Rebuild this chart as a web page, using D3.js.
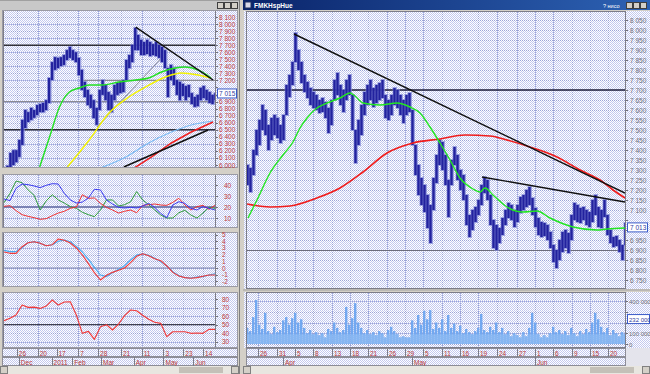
<!DOCTYPE html>
<html><head><meta charset="utf-8">
<script src="https://d3js.org/d3.v7.min.js"></script>
<style>
html,body{margin:0;padding:0;background:#d4d0c8;overflow:hidden}
svg{display:block}
text{font-family:"Liberation Sans",Arial,sans-serif}
</style></head><body>
<svg id="chart" width="650" height="374"></svg>
<script>
// ================= DATA =================
// Left window: daily bars (high / low), one sample per bar slot
const leftHigh = [5960,5990,6170,6210,6210,6355,6640,6780,6750,6810,6780,6850,6865,6880,6920,7235,7460,7530,7520,7530,7560,7630,7675,7630,7600,7520,7350,7180,7065,6995,6920,6810,7065,7205,7135,7035,6995,7135,7165,7180,7205,7490,7560,7705,7945,7845,7775,7745,7775,7745,7715,7745,7705,7675,7630,7375,7420,7375,7205,7180,7150,7120,7135,7020,6965,6995,7095,7120,7065,7035,6995,7020];
const leftLow = [5880,5900,5970,6000,6040,6115,6285,6525,6610,6640,6670,6710,6750,6750,6780,6880,7205,7350,7375,7405,7420,7490,7520,7490,7460,7275,7065,6965,6850,6810,6665,6570,6780,6995,6920,6780,6750,6920,6995,7020,7035,7205,7375,7460,7630,7630,7560,7560,7575,7545,7560,7545,7520,7460,7375,6965,7205,7135,6995,6920,6980,6920,6965,6865,6825,6835,6920,6950,6920,6880,6865,6920];
// moving averages: [bar index, price]
const leftGreenMA = [[12,5972],[15.33,6397],[18.67,6823],[22,7036],[25.33,7093],[28.67,7135],[33,7135],[38.67,7178],[44.33,7206],[48.67,7235],[53,7320],[57.67,7376],[61,7390],[65.33,7348],[69.67,7235]];
const leftYellowMA = [[21.33,5972],[28.67,6355],[35.33,6738],[42,6965],[47.67,7107],[54.33,7249],[59.67,7306],[65.33,7277],[69.67,7235]];
const leftBlueMA = [[32,5950],[41,6114],[48.67,6312],[56.33,6468],[63,6568],[70.33,6624]];
const leftRedMA = [[43.5,5950],[49.67,6114],[56.33,6312],[63,6468],[70.33,6610]];
const leftChannel = [[40.33,5972],[68.67,6497]];
const leftTrend = [[44.33,7958],[70.33,7206]];
const leftThin = [[31.33,6539],[53,7518]];
const leftLevelsDark = [7700,6500];
const leftLevelsGray = [[26,7200],[0,6900]];
const leftPriceTicks = [8100,8000,7900,7800,7700,7600,7500,7400,7300,7200,7100,7000,6900,6800,6700,6600,6500,6400,6300,6200,6100,6000];
const leftLast = 7015;
// Left indicators (one value every 2 bar slots)
const dmiBlue = [27.3,25.8,37,40.9,40.3,39.1,37.6,39.7,41.2,40.9,32.4,26.4,23.6,24.5,28.2,36.1,35.5,26.4,22.7,19.7,19.1,19.7,19.1,20.9,23.3,19.7,14.2,10.3,21.8,24.8,23.3,18.8,17.3,20.3,18.8,17.3];
const dmiGreen = [23.9,32.4,43.6,42.1,35.5,30.6,17.3,25.5,31.2,26.4,23.6,20.3,18.8,15.2,13,11.2,17.3,26.4,26.4,20.9,22.1,24.8,34,26.4,22.1,17.3,12.7,10,10,14.8,17,12.7,10,14.5,19.7,18.8];
const dmiRed = [20.6,21.2,16.7,13,11.5,10.3,8.8,9.4,12.1,14.5,16.1,18.8,20,31.2,27.9,28.2,23.3,19.7,17.3,14.5,16.1,17.3,14.8,21.5,22.1,22.7,21.8,21.5,24.2,27.9,21.8,17.3,20.3,21.5,17.9,21.5];
const dmiTicks = [40,30,20,10];
const macdRed = [2.39,2.19,2.19,3.18,3.78,3.93,3.68,3.33,3.48,4.33,4.13,3.73,2.99,1.94,0.65,-0.7,-1.79,-1.09,-0.65,-0.35,0,0.8,1.74,2.14,1.84,1.39,1.09,0.3,-0.65,-1.19,-1.44,-1.54,-1.44,-1.24,-1.04,-1.04];
const macdBlue = [2.64,2.44,2.44,3.03,3.78,3.93,3.68,3.33,3.48,3.98,4.18,3.93,3.23,2.39,1.29,0.1,-1.04,-1.29,-0.7,-0.2,0.35,1.19,1.94,2.14,1.89,1.44,0.95,0.3,-0.55,-1.14,-1.44,-1.49,-1.34,-1.29,-1.04,-0.85];
const macdTicks = [5,4,3,2,1,0,-1,-2];
const rsi = [54.6,57.4,61.3,72.9,70.2,70.5,69,71.7,78.8,72.9,76.4,76.8,61.3,39.8,42.1,32.8,47.6,49.9,43.7,50.7,60.5,67.1,66.3,60.9,56.2,52.7,51.5,35.9,41.7,41.7,41.7,39.8,40.2,39.8,44.4,44.4];
const rsiTicks = [80,70,60,50,40,30];
const leftDateLabels = ["26","20","17","7","28","21","11","3","23","14"];
const leftDateIdx = [4.33,11.33,17.67,25,31.67,39.33,46.33,53.67,60.33,67];
const leftMonths = ["Dec","2011","Feb","Mar","Apr","May","Jun"];
const leftMonthIdx = [5,16,23,32.67,43.67,53.67,63.67];

// Main window: intraday bars (high / low)
const mainHigh = [7325,7310,7400,7500,7550,7625,7600,7525,7560,7575,7560,7525,7575,7725,7775,7840,7985,7900,7840,7775,7740,7710,7690,7675,7650,7660,7640,7610,7650,7750,7785,7725,7700,7750,7775,7675,7500,7550,7625,7690,7725,7750,7710,7725,7735,7750,7675,7650,7675,7710,7700,7675,7650,7675,7685,7600,7425,7325,7260,7225,7175,7125,7260,7375,7450,7440,7375,7250,7350,7415,7375,7300,7275,7175,7075,7100,7115,7150,7225,7265,7250,7175,7050,7025,7010,7060,7100,7135,7125,7100,7125,7165,7175,7200,7215,7160,7110,7060,7040,7035,7025,6990,6925,6900,6950,6990,7000,6985,7075,7135,7125,7110,7115,7100,7090,7150,7175,7115,7100,7150,7075,7000,6965,6970,6950,6925,7035];
const mainLow = [7225,7190,7275,7375,7425,7500,7475,7400,7450,7475,7460,7435,7450,7575,7665,7725,7840,7800,7735,7690,7660,7625,7610,7600,7585,7590,7560,7485,7525,7650,7675,7625,7590,7650,7675,7500,7335,7425,7475,7575,7625,7650,7615,7635,7650,7660,7560,7550,7575,7625,7610,7575,7535,7575,7590,7425,7275,7175,7125,7090,7010,6935,7100,7235,7325,7300,7225,7065,7225,7325,7250,7200,7150,7025,6965,7000,7040,7075,7125,7185,7150,7025,6910,6900,6935,6975,7025,7060,7050,7015,7040,7085,7100,7115,7125,7075,7015,6975,6965,6970,6950,6910,6840,6810,6850,6890,6910,6885,6950,7050,7040,7035,7050,7025,7015,7040,7075,7015,7010,7065,6975,6935,6915,6920,6890,6850,6925];
const mainVolume = [150,120,250,410,180,140,290,120,90,160,110,130,220,250,180,240,290,200,230,150,100,130,90,110,80,100,60,140,120,200,150,110,130,345,180,240,380,200,150,100,130,90,110,80,120,100,60,130,160,120,90,60,70,60,60,220,150,270,180,310,230,315,140,200,150,230,120,270,150,190,120,170,100,140,110,90,120,150,280,130,110,160,130,200,110,150,90,120,70,100,80,60,110,70,150,290,200,90,60,80,60,100,160,110,130,90,120,80,150,100,70,120,90,140,110,200,290,230,160,110,150,80,130,100,70,110,90];
const mainGreenMA = [[0.33,7060],[3.33,7150],[7.67,7285],[12,7375],[15.33,7440],[17.67,7510],[20,7560],[23.33,7610],[26.67,7635],[31,7660],[34.33,7685],[36,7670],[38.67,7635],[44.33,7625],[50,7635],[54.33,7615],[57.67,7585],[61,7515],[64.33,7435],[67.67,7350],[71,7260],[75.33,7205],[77.67,7190],[79.33,7210],[82,7175],[86.67,7115],[92,7090],[96.67,7095],[101,7060],[108.67,7015],[116.67,7000],[120,7005],[126,7010]];
const mainRedMA = [[0,7130],[7.67,7115],[14.33,7120],[23.33,7160],[31,7210],[38.67,7290],[46.67,7385],[55.33,7435],[64.33,7455],[72.67,7475],[81,7470],[86.67,7450],[95.33,7410],[103.33,7365],[111,7300],[117.67,7250],[122,7200],[126,7160]];
const mainTrend1 = [[15.67,7980],[126,7185]];
const mainTrend2 = [[78.33,7265],[126,7140]];
const mainLevelDark = 7700;
const mainLevelGray = 6900;
const mainPriceTicks = [8050,8000,7950,7900,7850,7800,7750,7700,7650,7600,7550,7500,7450,7400,7350,7300,7250,7200,7150,7100,7050,7000,6950,6900,6850,6800,6750];
const mainLast = 7013;
const volTicks = [400,300,200,100,0];
const volLast = 232;
const mainDateLabels = ["26","31","5","8","13","18","21","26","29","5","11","16","19","24","27","1","6","9","15","20"];
const mainDateIdx = [3.67,10,16,22,28.33,34.33,40.33,46.67,52.67,58.67,65,71,77,83.33,90,96,102,108.33,114.33,120.33];
const mainMonths = ["Apr","May","Jun"];
const mainMonthIdx = [12,55,96];
const mainTitle = "FMKHspHue";

// ================= DRAWING =================
const svg = d3.select("#chart");
const defs = svg.append("defs");
const pat = defs.append("pattern").attr("id","dith").attr("width",2).attr("height",2).attr("patternUnits","userSpaceOnUse");
pat.append("rect").attr("width",2).attr("height",2).attr("fill","#ffffff");
pat.append("rect").attr("width",1).attr("height",1).attr("fill","#c3c9ef");
pat.append("rect").attr("x",1).attr("y",1).attr("width",1).attr("height",1).attr("fill","#c3c9ef");
const tg = defs.append("linearGradient").attr("id","tbar");
tg.append("stop").attr("offset","0").attr("stop-color","#0a246a");
tg.append("stop").attr("offset","1").attr("stop-color","#2d62b4");

const fmt = v => d3.format(",")(v).replace(/,/g," ");
let clipN = 0;
function clipGroup(x0,y0,x1,y1){
  const id = "cp"+(clipN++);
  defs.append("clipPath").attr("id",id).append("rect").attr("x",x0).attr("y",y0).attr("width",x1-x0).attr("height",y1-y0);
  return svg.append("g").attr("clip-path",`url(#${id})`);
}
function rect(x,y,w,h,fill,stroke){
  return svg.append("rect").attr("x",x).attr("y",y).attr("width",w).attr("height",h).attr("fill",fill||"none").attr("stroke",stroke||"none");
}
function hgrid(g,x0,x1,ys){
  g.selectAll(null).data(ys).join("line").attr("x1",x0).attr("x2",x1)
   .attr("y1",d=>Math.round(d)+0.5).attr("y2",d=>Math.round(d)+0.5)
   .attr("stroke","#9aa3d6").attr("stroke-dasharray","1,1");
}
function vgrid(g,y0,y1,xs){
  g.selectAll(null).data(xs).join("line").attr("y1",y0).attr("y2",y1)
   .attr("x1",d=>Math.round(d)+0.5).attr("x2",d=>Math.round(d)+0.5)
   .attr("stroke","#9aa3d6").attr("stroke-dasharray","1,1");
}
// axis labels; labels hidden under the "current value" box are skipped (the box covers them)
function axisLabels(x,ys,labels,color,size,boxY){
  const keep = ys.map((y,i)=>i).filter(i=>boxY===undefined || Math.abs(ys[i]-boxY)>=8);
  svg.append("g").selectAll("text").data(keep).join("text")
    .attr("x",x).attr("y",i=>ys[i]+2.5).attr("font-size",size||7).attr("fill",color).text(i=>labels[i]);
}
function ticksMarks(x,ys){
  svg.append("g").selectAll("line").data(ys).join("line")
    .attr("x1",x).attr("x2",x+2).attr("y1",d=>Math.round(d)+0.5).attr("y2",d=>Math.round(d)+0.5).attr("stroke","#707078");
}
function bars(g,xs,ys,hi,lo){
  g.append("g").selectAll("rect").data(hi).join("rect")
    .attr("x",(d,i)=>xs(i)-1.5).attr("width",4.5)
    .attr("y",(d,i)=>ys(d)-1).attr("height",(d,i)=>ys(lo[i])-ys(d)+2)
    .attr("fill","#8088d8").attr("opacity",0.7);
  g.append("g").selectAll("rect").data(hi).join("rect")
    .attr("x",(d,i)=>xs(i)-0.7).attr("width",2.4)
    .attr("y",(d,i)=>ys(d)).attr("height",(d,i)=>ys(lo[i])-ys(d))
    .attr("fill","#22229e");
}
function pairLine(g,data,xs,ys,color,w,curve){
  g.append("path").datum(data)
   .attr("d",d3.line().x(d=>xs(d[0])).y(d=>ys(d[1])).curve(curve||d3.curveMonotoneX))
   .attr("fill","none").attr("stroke",color).attr("stroke-width",w);
}
function seriesLine(g,data,xs,ys,color,w){
  g.append("path").datum(data)
   .attr("d",d3.line().x((d,i)=>xs(i)).y(d=>ys(d)))
   .attr("fill","none").attr("stroke",color).attr("stroke-width",w).attr("stroke-linejoin","round");
}
function titleButtons(x,y){
  [0,7,14].forEach(o=>{ rect(x+o+0.5,y+0.5,6,6,"#d4d0c8","#404040"); });
}
function scrollbar(x0,x1,y){
  rect(x0,y,x1-x0,8,"#e8e6e0");
  rect(x0+0.5,y+0.5,7,7,"#d4d0c8","#808080");
  rect(x1-7.5,y+0.5,7,7,"#d4d0c8","#808080");
  rect(x1-60,y+1,44,6,"#c4c0b8");
}

// ---------- LEFT WINDOW ----------
rect(0,0,239,10,"#c8c8c8");
rect(0,0,239,1,"#a0a0a0");
titleButtons(217,2);
const LX0 = 3, LX1 = 216, LAX = 238;
const lx = d3.scaleLinear().domain([0,leftHigh.length-1]).range([4,215]);
const ix = d3.scaleLinear().domain([0,dmiBlue.length-1]).range([4,215]);
const leftDateX = leftDateIdx.map(d=>lx(d));

function leftRow(y0,y1){
  rect(2,y0,LAX-2,y1-y0,"url(#dith)");
  rect(LX0+0.5,y0+0.5,LX1-LX0-1,y1-y0-1,null,"#7c7c88");
  rect(2.5,y0+0.5,LAX-3,y1-y0-1,null,"#9a9aa4");
}
// price panel
leftRow(10,168);
const ly = d3.scaleLinear().domain([6000,8100]).range([165,17]);
{
  const g = clipGroup(LX0+1,11,LX1-1,167);
  hgrid(g,LX0,LX1,leftPriceTicks.map(ly));
  vgrid(g,11,167,leftDateX);
  g.selectAll(null).data(leftLevelsDark).join("line").attr("x1",LX0).attr("x2",LX1)
    .attr("y1",d=>ly(d)).attr("y2",d=>ly(d)).attr("stroke","#303038").attr("stroke-width",1.6);
  g.selectAll(null).data(leftLevelsGray).join("line").attr("x1",d=>lx(d[0])).attr("x2",LX1)
    .attr("y1",d=>ly(d[1])).attr("y2",d=>ly(d[1])).attr("stroke","#8a8a94").attr("stroke-width",1.2);
  pairLine(g,leftBlueMA,lx,ly,"#7cbcf4",1.2);
  pairLine(g,leftRedMA,lx,ly,"#f02020",1.5,d3.curveLinear);
  pairLine(g,leftChannel,lx,ly,"#101010",1.6,d3.curveLinear);
  pairLine(g,leftThin,lx,ly,"#8a8a96",1,d3.curveLinear);
  bars(g,lx,ly,leftHigh,leftLow);
  pairLine(g,leftYellowMA,lx,ly,"#f4f400",1.4);
  pairLine(g,leftGreenMA,lx,ly,"#22e022",1.4);
  pairLine(g,leftTrend,lx,ly,"#101010",1.5,d3.curveLinear);
}
ticksMarks(LX1,leftPriceTicks.map(ly));
axisLabels(219,leftPriceTicks.map(ly),leftPriceTicks.map(fmt),"#c03a3a",6.5,ly(leftLast));
rect(217.5,ly(leftLast)-4.5,19,9,"#ffffff","#3a5ac8");
svg.append("text").attr("x",219).attr("y",ly(leftLast)+2.5).attr("font-size",6.5).attr("fill","#3040a0").text(fmt(leftLast));

// DMI panel
rect(0,168,239,6,"#d4d0c8");
leftRow(174,228);
const ay = d3.scaleLinear().domain([10,40]).range([218,185]);
{
  const g = clipGroup(LX0+1,175,LX1-1,227);
  hgrid(g,LX0,LX1,dmiTicks.map(ay));
  vgrid(g,175,227,leftDateX);
  g.append("line").attr("x1",LX0).attr("x2",LX1).attr("y1",ay(20)).attr("y2",ay(20)).attr("stroke","#7a82b4").attr("stroke-width",2);
  seriesLine(g,dmiGreen,ix,ay,"#2e9a3a",1);
  seriesLine(g,dmiRed,ix,ay,"#f03030",1);
  seriesLine(g,dmiBlue,ix,ay,"#3a3af0",1);
}
ticksMarks(LX1,dmiTicks.map(ay));
axisLabels(224,dmiTicks.map(ay),dmiTicks.map(String),"#c03a3a",6.5);

// MACD panel
rect(0,228,239,4,"#d4d0c8");
leftRow(232,287);
const my = d3.scaleLinear().domain([0,4]).range([268,241.2]);
{
  const g = clipGroup(LX0+1,233,LX1-1,286);
  hgrid(g,LX0,LX1,macdTicks.map(my));
  vgrid(g,233,286,leftDateX);
  g.append("line").attr("x1",LX0).attr("x2",LX1).attr("y1",my(0)).attr("y2",my(0)).attr("stroke","#8088b0").attr("stroke-width",1);
  seriesLine(g,macdBlue,ix,my,"#48a8f0",1.1);
  seriesLine(g,macdRed,ix,my,"#f03838",1.1);
}
ticksMarks(LX1,macdTicks.map(my));
axisLabels(222,macdTicks.map(my),macdTicks.map(String),"#c03a3a",6.5);

// RSI panel
rect(0,287,239,5,"#d4d0c8");
leftRow(292,348);
const ry = d3.scaleLinear().domain([30,80]).range([341.7,299]);
{
  const g = clipGroup(LX0+1,293,LX1-1,347);
  hgrid(g,LX0,LX1,rsiTicks.map(ry));
  vgrid(g,293,347,leftDateX);
  g.append("line").attr("x1",LX0).attr("x2",LX1).attr("y1",ry(50)).attr("y2",ry(50)).attr("stroke","#404050").attr("stroke-width",1.2);
  seriesLine(g,rsi,ix,ry,"#f03838",1.1);
}
ticksMarks(LX1,rsiTicks.map(ry));
axisLabels(222,rsiTicks.map(ry),rsiTicks.map(String),"#c03a3a",6.5);

// date axis helper
function dateAxis(x0,x1,xs,labels,monthXs,months){
  rect(x0,348,x1-x0,18,"url(#dith)");
  rect(x0+0.5,348.5,x1-x0-1,8,null,"#8c8c96");
  rect(x0+0.5,357.5,x1-x0-1,8,null,"#8c8c96");
  svg.append("g").selectAll("line").data(xs).join("line")
    .attr("x1",d=>Math.round(d)+0.5).attr("x2",d=>Math.round(d)+0.5).attr("y1",349).attr("y2",357).attr("stroke","#7c7c88");
  svg.append("g").selectAll("text").data(labels).join("text")
    .attr("x",(d,i)=>xs[i]+2).attr("y",355.5).attr("font-size",6.5).attr("fill","#b83838").text(d=>d);
  svg.append("g").selectAll("line").data(monthXs).join("line")
    .attr("x1",d=>Math.round(d)+0.5).attr("x2",d=>Math.round(d)+0.5).attr("y1",357).attr("y2",366).attr("stroke","#7c7c88");
  svg.append("g").selectAll("text").data(months).join("text")
    .attr("x",(d,i)=>monthXs[i]+2).attr("y",364.5).attr("font-size",6.5).attr("fill","#b83838").text(d=>d);
}
dateAxis(2,LAX,leftDateX,leftDateLabels,leftMonthIdx.map(d=>lx(d)),leftMonths);
scrollbar(0,239,366);

// separator between windows
rect(239,0,4,374,"#d4d0c8");
rect(239,0,1,374,"#808080");

// ---------- MAIN WINDOW ----------
rect(243,0,407,10,"url(#tbar)");
rect(245,2,6,6,"#d8d8e8","#203060");
svg.append("text").attr("x",254).attr("y",7.5).attr("font-size",6.5).attr("font-weight","bold").attr("fill","#ffffff").text(mainTitle);
svg.append("text").attr("x",603).attr("y",7.5).attr("font-size",5.5).attr("fill","#ffffff").text("? нисо");
titleButtons(626,2);
rect(243,10,407,1,"#d4d0c8");

const MX0 = 246, MX1 = 626, MAX = 650;
const mx = d3.scaleLinear().domain([0,mainHigh.length-1]).range([247,625]);
const mpy = d3.scaleLinear().domain([6750,8050]).range([280,20]);
const mainDateX = mainDateIdx.map(d=>mx(d));
function mainRow(y0,y1){
  rect(244,y0,MAX-244,y1-y0,"url(#dith)");
  rect(MX0+0.5,y0+0.5,MX1-MX0-1,y1-y0-1,null,"#7c7c88");
}
mainRow(11,289);
{
  const g = clipGroup(MX0+1,12,MX1-1,288);
  hgrid(g,MX0,MX1,mainPriceTicks.map(mpy));
  vgrid(g,12,288,mainDateX);
  g.append("line").attr("x1",MX0).attr("x2",MX1).attr("y1",mpy(mainLevelDark)).attr("y2",mpy(mainLevelDark)).attr("stroke","#1c1c38").attr("stroke-width",1.3);
  g.append("line").attr("x1",MX0).attr("x2",MX1).attr("y1",Math.round(mpy(mainLevelGray))+0.5).attr("y2",Math.round(mpy(mainLevelGray))+0.5).attr("stroke","#6c6c7c").attr("stroke-width",1);
  bars(g,mx,mpy,mainHigh,mainLow);
  pairLine(g,mainRedMA,mx,mpy,"#f01c1c",1.6);
  pairLine(g,mainGreenMA,mx,mpy,"#22e622",1.4);
  pairLine(g,mainTrend1,mx,mpy,"#101010",1.4,d3.curveLinear);
  pairLine(g,mainTrend2,mx,mpy,"#101010",1.4,d3.curveLinear);
}
ticksMarks(MX1,mainPriceTicks.map(mpy));
axisLabels(630,mainPriceTicks.map(mpy),mainPriceTicks.map(fmt),"#707078",6.5,mpy(mainLast));
rect(627.5,mpy(mainLast)-4.5,20,9,"#ffffff","#3a5ac8");
svg.append("text").attr("x",630).attr("y",mpy(mainLast)+2.5).attr("font-size",6.5).attr("fill","#3040a0").text(fmt(mainLast));

// volume panel
rect(243,289,407,3,"#d4d0c8");
rect(243,289.5,407,1,"#a0a0a0");
mainRow(292,348);
const vy = d3.scaleLinear().domain([0,400]).range([344,301]);
{
  const g = clipGroup(MX0+1,293,MX1-1,347);
  hgrid(g,MX0,MX1,volTicks.map(vy));
  vgrid(g,293,347,mainDateX);
  g.append("g").selectAll("rect").data(mainVolume).join("rect")
    .attr("x",(d,i)=>mx(i)-1).attr("width",2.4)
    .attr("y",d=>vy(d)).attr("height",d=>vy(0)-vy(d)).attr("fill","#72a8f0");
  g.append("g").selectAll("rect").data(mainVolume).join("rect")
    .attr("x",(d,i)=>mx(i)-1.5).attr("width",3)
    .attr("y",d=>vy(Math.min(d,90))).attr("height",d=>vy(0)-vy(Math.min(d,90))).attr("fill","#86b6f2");
}
ticksMarks(MX1,volTicks.map(vy));
axisLabels(629,volTicks.map(vy),volTicks.map(v=>fmt(v*1000)),"#707078",6,vy(volLast));
rect(627.5,vy(volLast)-4.5,22,9,"#ffffff","#3a5ac8");
svg.append("text").attr("x",629).attr("y",vy(volLast)+2.5).attr("font-size",6).attr("fill","#3040a0").text(fmt(volLast*1000));

dateAxis(MX0,MX1,mainDateX,mainDateLabels,mainMonthIdx.map(d=>mx(d)),mainMonths);
rect(MX1,348,MAX-MX1,18,"#e4e4ec");
scrollbar(243,650,366);
</script></body></html>
